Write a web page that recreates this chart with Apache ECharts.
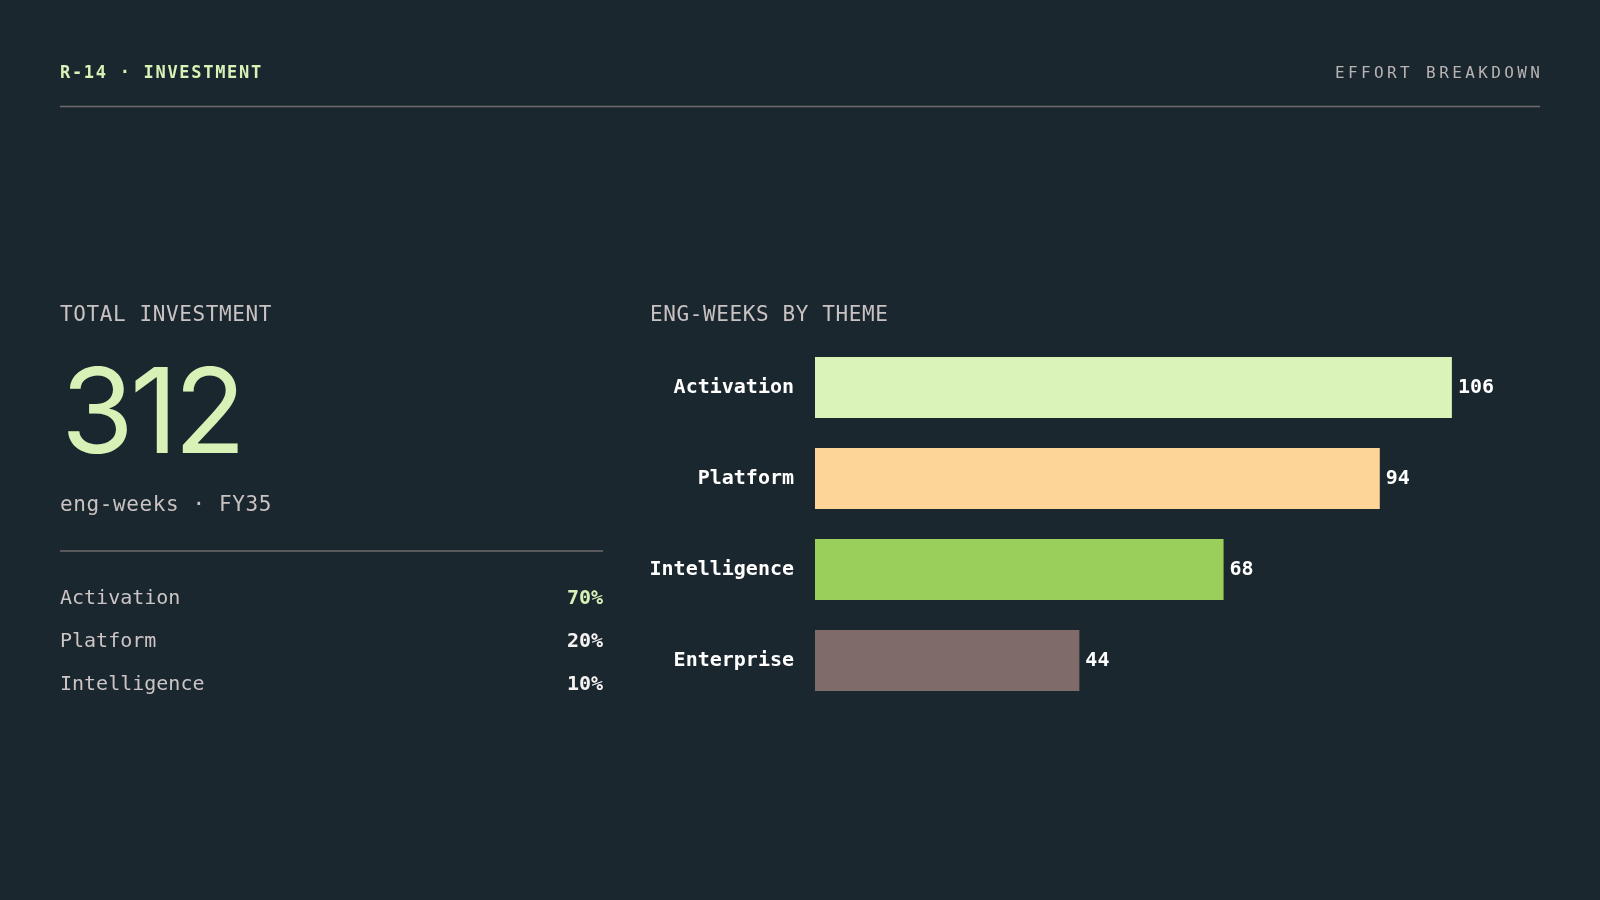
<!DOCTYPE html>
<html>
<head>
<meta charset="utf-8">
<script src="https://cdn.jsdelivr.net/npm/echarts@6/dist/echarts.min.js"></script>
<style>
  html, body { margin: 0; padding: 0; background: #1b272f; }
  #chart { width: 1600px; height: 900px; }
</style>
</head>
<body>
<div id="chart"></div>
<script>
// ---- data ----
const headerLeft = 'R-14 · INVESTMENT';
const headerRight = 'EFFORT BREAKDOWN';
const totalTitle = 'TOTAL INVESTMENT';
const totalValue = '312';
const totalUnit = 'eng-weeks · FY35';
const chartTitle = 'ENG-WEEKS BY THEME';
const themes = ['Activation', 'Platform', 'Intelligence', 'Enterprise'];
const engWeeks = [106, 94, 68, 44];
const shareLabels = ['Activation', 'Platform', 'Intelligence'];
const sharePcts = ['70%', '20%', '10%'];
const themeColors = ['#daf3b9', '#fed599', '#9bcf5c', '#7f6c69'];

const MONO = '"DejaVu Sans Mono", "Liberation Mono", monospace';
const SANS = 'Inter, "Noto Sans", sans-serif';

const measureCtx = document.createElement('canvas').getContext('2d');
function spacedText(text, opts) {
  // returns graphic elements for text with letter spacing
  const font = `${opts.weight || 400} ${opts.size}px ${opts.family}`;
  measureCtx.font = font;
  const chars = Array.from(text);
  const widths = chars.map(c => measureCtx.measureText(c).width);
  const sp = opts.spacing || 0;
  const total = widths.reduce((a, b) => a + b, 0) + sp * (chars.length - 1);
  let x = opts.align === 'right' ? opts.x - total : opts.x;
  const els = [];
  chars.forEach((c, i) => {
    els.push({
      type: 'text',
      silent: true,
      style: {
        x: x, y: opts.y, text: c,
        font: font,
        fill: opts.color,
        textAlign: 'left',
        textVerticalAlign: 'middle',
        verticalAlign: 'middle'
      }
    });
    x += widths[i] + sp;
  });
  return els;
}

const graphics = [];
graphics.push(...spacedText(headerLeft, { x: 60, y: 74, size: 17, weight: 700, family: MONO, spacing: 1.7, color: '#d8f1b6' }));
graphics.push(...spacedText(headerRight, { x: 1540, y: 74, size: 16, weight: 400, family: MONO, spacing: 3.4, color: '#b9b4b4', align: 'right' }));
graphics.push({ type: 'line', silent: true, shape: { x1: 60, y1: 106.5, x2: 1540, y2: 106.5 }, style: { stroke: '#6f6a6b', lineWidth: 1.5 } });

graphics.push(...spacedText(totalTitle, { x: 60, y: 316, size: 21, weight: 500, family: MONO, spacing: 0.6, color: '#c9c2c2' }));
graphics.push(...spacedText(totalValue, { x: 61, y: 418, size: 118, weight: 400, family: SANS, spacing: -4, color: '#d8f1b6' }));
graphics.push(...spacedText(totalUnit, { x: 60, y: 506, size: 21, weight: 500, family: MONO, spacing: 0.6, color: '#c9c2c2' }));
graphics.push({ type: 'line', silent: true, shape: { x1: 60, y1: 551, x2: 603, y2: 551 }, style: { stroke: '#6f6a6b', lineWidth: 1.5 } });

const rowY = [599, 642, 685];
shareLabels.forEach((lab, i) => {
  graphics.push(...spacedText(lab, { x: 60, y: rowY[i], size: 20, weight: 500, family: MONO, spacing: 0, color: '#cbc5c5' }));
  graphics.push(...spacedText(sharePcts[i], { x: 603, y: rowY[i], size: 20, weight: 700, family: MONO, spacing: 0, color: i === 0 ? '#d8f1b6' : '#f5f2f2', align: 'right' }));
});

graphics.push(...spacedText(chartTitle, { x: 650, y: 316, size: 21, weight: 500, family: MONO, spacing: 0.6, color: '#c9c2c2' }));

const chart = echarts.init(document.getElementById('chart'));
chart.setOption({
  backgroundColor: '#1b272f',
  animation: false,
  graphic: graphics,
  grid: { left: 815, right: 64, top: 342, height: 364 },
  xAxis: {
    type: 'value', min: 0, max: 120,
    show: false
  },
  yAxis: {
    type: 'category',
    data: themes,
    inverse: true,
    axisLine: { show: false },
    axisTick: { show: false },
    axisLabel: {
      margin: 21,
      color: '#ffffff',
      fontFamily: MONO,
      fontWeight: 700,
      fontSize: 20,
      lineHeight: 24,
      padding: [4, 0, 0, 0]
    }
  },
  series: [{
    type: 'bar',
    data: engWeeks.map((v, i) => ({ value: v, itemStyle: { color: themeColors[i] } })),
    barWidth: 61,
    label: {
      show: true,
      position: 'right',
      distance: 6,
      color: '#ffffff',
      fontFamily: MONO,
      fontWeight: 700,
      fontSize: 20,
      padding: [4, 0, 0, 0]
    }
  }]
});
</script>
</body>
</html>
